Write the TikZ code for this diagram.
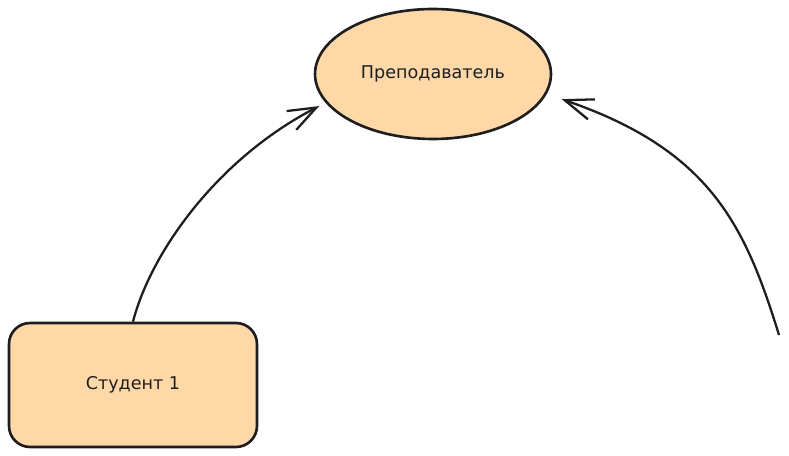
\documentclass[tikz,border=0pt]{standalone}
\usepackage{fontspec}
\setmainfont{DejaVu Sans}
\usetikzlibrary{shapes.geometric,arrows.meta}
\definecolor{peach}{HTML}{FFD8A8}
\definecolor{ink}{HTML}{1E1E1E}

\begin{document}
\begin{tikzpicture}[x=0.02cm, y=-0.02cm, every node/.style={align=center, font=\fontsize{10}{12}\selectfont, text=ink},
  blob/.style={draw=ink, fill=peach, line width=1.5pt},
  link/.style={-{Straight Barb[length=16pt, width=12pt, line width=1.3pt]}, line width=1.3pt, draw=ink}]
\useasboundingbox (0,0) rectangle (789,456);
\node[blob, ellipse, inner sep=0pt, minimum width=4.72cm, minimum height=2.6cm] (a) at (433,74) {Преподаватель};
\node[blob, rounded corners=0.42cm, minimum width=4.96cm, minimum height=2.48cm] (b) at (133,385) {Студент 1};
\coordinate (c) at (779,335);
\draw[link, shorten >=4pt] (b.north) .. controls (150,255) and (215,160) .. (a.195);
\draw[link, shorten >=9pt] (c) .. controls (745,225) and (710,150) .. (a.350);
\end{tikzpicture}
\end{document}
